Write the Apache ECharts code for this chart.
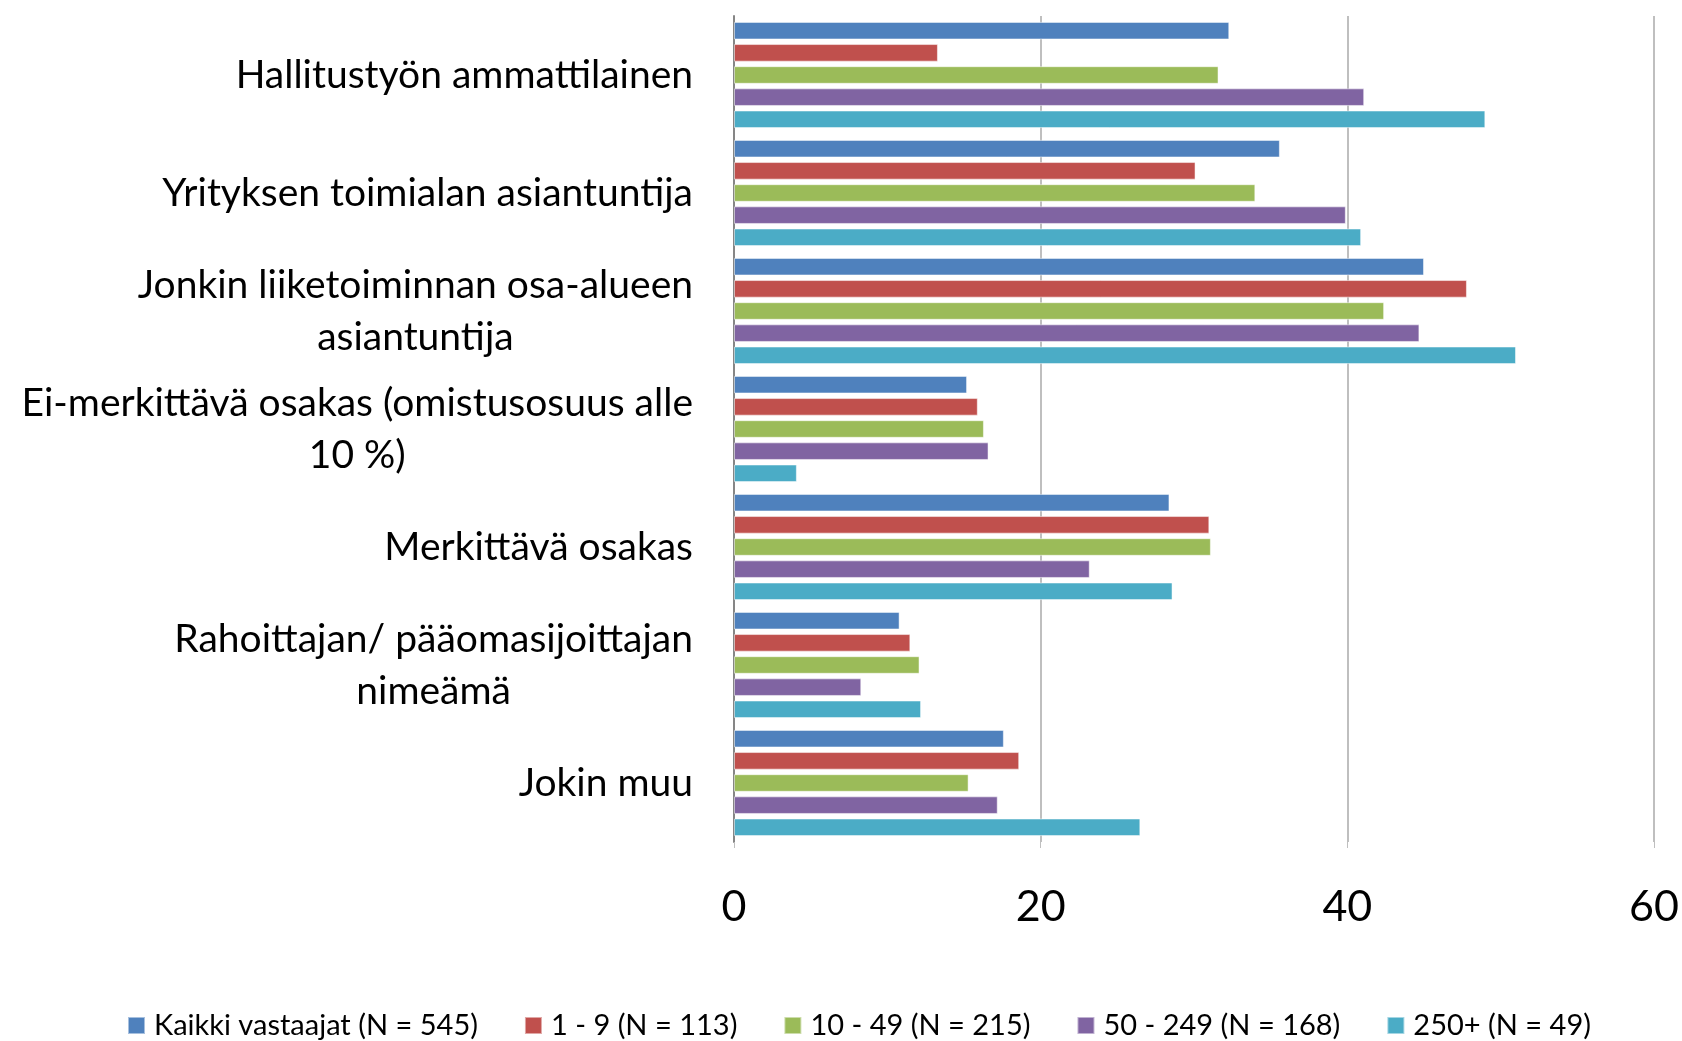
<!DOCTYPE html>
<html>
<head>
<meta charset="utf-8">
<script src="https://cdn.jsdelivr.net/npm/echarts@6/dist/echarts.min.js"></script>
<style>
  html, body { margin: 0; padding: 0; background: #fff; }
  #chart { width: 1682px; height: 1041px; }
</style>
</head>
<body>
<div id="chart"></div>
<script>
// kategoriat (ylhäältä alas)
const categories = [
  'Hallitustyön ammattilainen',
  'Yrityksen toimialan asiantuntija',
  'Jonkin liiketoiminnan osa-alueen\nasiantuntija',
  'Ei-merkittävä osakas (omistusosuus alle\n10 %)',
  'Merkittävä osakas',
  'Rahoittajan/ pääomasijoittajan\nnimeämä',
  'Jokin muu'
];
const seriesNames = [
  'Kaikki vastaajat (N = 545)',
  '1 - 9 (N = 113)',
  '10 - 49 (N = 215)',
  '50 - 249 (N = 168)',
  '250+ (N = 49)'
];
const kaikki = [32.3, 35.6, 45.0, 15.2, 28.4, 10.8, 17.6];
const koko1_9 = [13.3, 30.1, 47.8, 15.9, 31.0, 11.5, 18.6];
const koko10_49 = [31.6, 34.0, 42.4, 16.3, 31.1, 12.1, 15.3];
const koko50_249 = [41.1, 39.9, 44.7, 16.6, 23.2, 8.3, 17.2];
const koko250 = [49.0, 40.9, 51.0, 4.1, 28.6, 12.2, 26.5];
const xTicks = [0, 20, 40, 60];

const colors = ['#4F81BD', '#C0504D', '#9BBB59', '#8064A2', '#4BACC6'];
const values = [kaikki, koko1_9, koko10_49, koko50_249, koko250];

const chart = echarts.init(document.getElementById('chart'));
const font = 'Lato, "Open Sans", sans-serif';

const option = {
  animation: false,
  textStyle: { fontFamily: font },
  grid: { left: 734, right: 28, top: 16, bottom: 199 },
  legend: {
    bottom: -4,
    left: 122,
    itemWidth: 17,
    itemHeight: 17,
    itemGap: 46,
    icon: 'rect',
    textStyle: { fontSize: 29, color: '#000', fontFamily: font, padding: [0, 0, 0, 4] },
    data: seriesNames
  },
  xAxis: {
    type: 'value',
    min: xTicks[0],
    max: xTicks[xTicks.length - 1],
    interval: 20,
    axisLine: { show: false },
    axisTick: { show: true, length: 6, lineStyle: { color: '#bfbfbf' } },
    axisLabel: { fontSize: 43, color: '#000', margin: 44, fontFamily: font },
    splitLine: { lineStyle: { color: '#bfbfbf', width: 2 } }
  },
  yAxis: {
    type: 'category',
    inverse: true,
    data: categories,
    axisLine: { lineStyle: { color: '#868686', width: 2 } },
    axisTick: { show: false },
    axisLabel: {
      margin: 41,
      fontSize: 39,
      color: '#000',
      lineHeight: 52,
      fontFamily: font,
      formatter: function (v) {
        return v.split('\n').map(function (s) { return '{c|' + s + '}'; }).join('\n');
      },
      rich: {
        c: { align: 'center', fontSize: 39, lineHeight: 52, color: '#000', fontFamily: font }
      }
    }
  },
  series: seriesNames.map(function (name, i) {
    return {
      name: name,
      type: 'bar',
      data: values[i],
      barGap: '26%',
      barCategoryGap: '10%',
      itemStyle: { color: colors[i], borderColor: 'rgba(255,255,255,0.5)', borderWidth: 1 }
    };
  })
};

chart.setOption(option);
</script>
</body>
</html>
